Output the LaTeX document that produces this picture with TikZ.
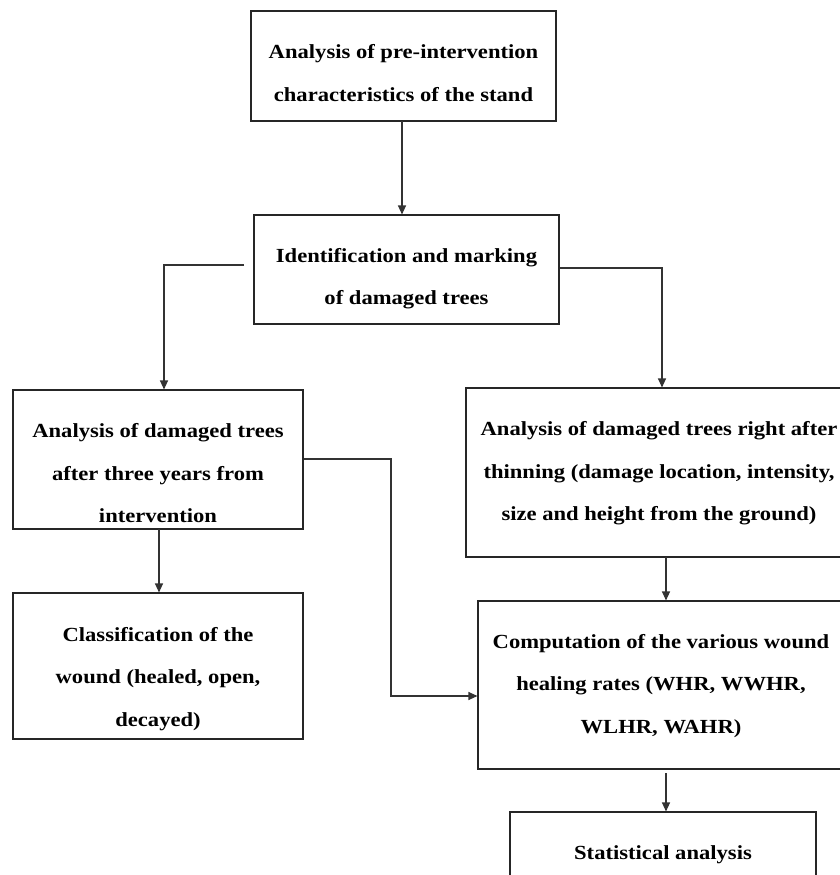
\documentclass[tikz,border=0pt]{standalone}
\usepackage{fontspec}
\setmainfont{Liberation Serif}[FakeStretch=1.13]
\usetikzlibrary{arrows.meta}
\tikzset{
  box/.style={draw=black!85, line width=1.1pt, rectangle, inner sep=0pt},
  txt/.style={align=center, inner sep=0pt, font=\fontsize{20}{42.5}\selectfont\bfseries},
  conn/.style={draw=black!80, line width=1.1pt},
  arr/.style={conn, -{Triangle[length=9pt,width=8pt]}}
}
\begin{document}
\begin{tikzpicture}[x=1pt,y=-1pt]
\useasboundingbox (0,0) rectangle (840,875);
\clip (0,0) rectangle (840,875);
\node[box, minimum width=305pt, minimum height=110pt,
  label={[txt, yshift=-7pt]center:{Analysis of pre-intervention\\characteristics of the stand}}]
  (b1) at (403.5,66) {};
\node[box, minimum width=305pt, minimum height=109pt,
  label={[txt, yshift=-9pt]center:{Identification and marking\\of damaged trees}}]
  (b2) at (406.5,269.5) {};
\node[box, minimum width=290pt, minimum height=139pt,
  label={[txt, yshift=-14pt]center:{Analysis of damaged trees\\after three years from\\intervention}}]
  (b3) at (158,459.5) {};
\node[box, minimum width=290pt, minimum height=146pt,
  label={[txt, yshift=-13pt]center:{Classification of the\\wound (healed, open,\\decayed)}}]
  (b4) at (158,666) {};
\node[box, minimum width=386pt, minimum height=169pt,
  label={[txt, yshift=-1pt]center:{Analysis of damaged trees right after\\thinning (damage location, intensity,\\size and height from the ground)}}]
  (b5) at (659,472.5) {};
\node[box, minimum width=366pt, minimum height=168pt,
  label={[txt, yshift=-1pt]center:{Computation of the various wound\\healing rates (WHR, WWHR,\\WLHR, WAHR)}}]
  (b6) at (661,685) {};
\node[box, minimum width=306pt, minimum height=120pt,
  label={[txt, yshift=17pt]center:{Statistical analysis}}]
  (b7) at (663,872) {};
% connectors
\draw[arr] (402,121) coordinate (s1) -- (s1 |- b2.north);
\coordinate (l0) at (244,265);
\coordinate (l1) at (164,265);
\draw[arr] (l0) -- (l1) -- (l1 |- b3.north);
\coordinate (r0) at (b2.east |- 0,268);
\coordinate (r1) at (662,268);
\draw[arr] (r0) -- (r1) -- (r1 |- b5.north);
\coordinate (d3) at (159,529);
\draw[arr] (d3) -- (d3 |- b4.north);
\coordinate (c0) at (b3.east |- 0,459);
\coordinate (c1) at (391,459);
\coordinate (c2) at (391,696);
\draw[arr] (c0) -- (c1) -- (c2) -- (c2 -| b6.west);
\coordinate (d5) at (666,557);
\draw[arr] (d5) -- (d5 |- b6.north);
\coordinate (d6) at (666,773);
\draw[arr] (d6) -- (d6 |- b7.north);
\end{tikzpicture}
\end{document}
